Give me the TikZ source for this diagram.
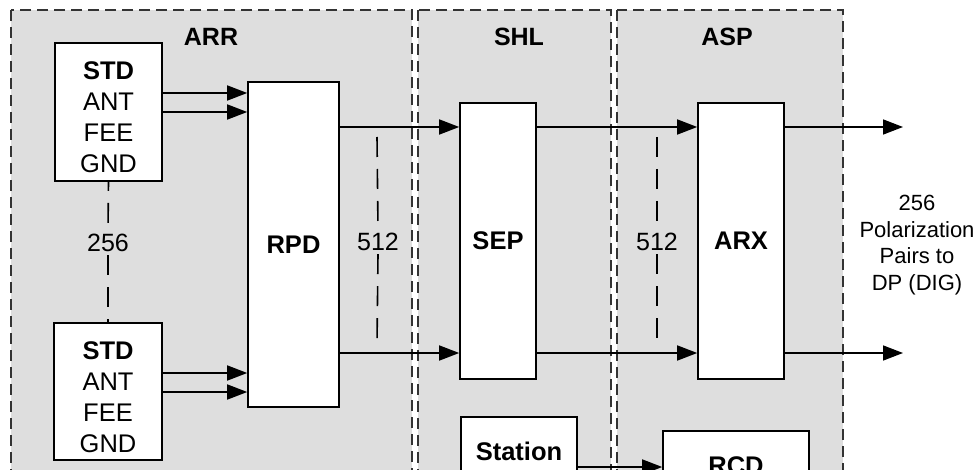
\documentclass[tikz,border=0pt]{standalone}
\usepackage{fontspec}
\setmainfont{Liberation Sans}
\usetikzlibrary{arrows.meta}
\definecolor{regfill}{HTML}{DEDEDE}
\definecolor{regline}{HTML}{333333}
\tikzset{
  region/.style={fill=regfill, draw=regline, line width=1.8pt, dash pattern=on 11pt off 6pt},
  reglabel/.style={font=\fontsize{25}{30}\selectfont\bfseries},
  blockbox/.style={draw=black, fill=white, line width=1.6pt, inner sep=0pt},
  boxtext/.style={font=\fontsize{25.5}{31}\selectfont, align=center, inner sep=0pt},
  boldtext/.style={font=\fontsize{25.5}{31}\selectfont\bfseries, inner sep=0pt},
  arr/.style={line width=1.6pt, -{Triangle[length=20pt,width=15pt]}},
  dashv/.style={line width=1.6pt, dash pattern=on 20pt off 12pt},
  numlabel/.style={font=\fontsize{25}{30}\selectfont, inner sep=3pt},
}
\begin{document}
\begin{tikzpicture}[x=1pt, y=-1pt]
\useasboundingbox (0,0) rectangle (979,470);
\clip (0,0) rectangle (979,470);
\fill[white] (0,0) rectangle (979,470);

% regions
\draw[region] (11,10) rectangle (412,520);
\draw[region] (418,10) rectangle (611,520);
\draw[region] (617,10) rectangle (843,520);
\node[reglabel] (arrlab) at (211,37) {ARR};
\node[reglabel] (shllab) at (519,37) {SHL};
\node[reglabel] (asplab) at (727,37) {ASP};

% STD boxes
\node[blockbox, minimum width=107pt, minimum height=138pt] (stdA) at (108.5,112) {};
\node[boxtext] (stdAtext) at (108.5,117.5) {\textbf{STD}\\ANT\\FEE\\GND};
\node[blockbox, minimum width=108pt, minimum height=137pt] (stdB) at (108,391.5) {};
\node[boxtext] (stdBtext) at (108,397) {\textbf{STD}\\ANT\\FEE\\GND};

% main blocks
\node[blockbox, boldtext, minimum width=91pt, minimum height=325pt] (rpd) at (293.5,244.5) {RPD};
\node[blockbox, boldtext, minimum width=76pt, minimum height=276pt] (sep) at (498,241) {SEP};
\node[blockbox, boldtext, minimum width=86pt, minimum height=276pt] (arx) at (741,241) {ARX};
\node[blockbox, boldtext, minimum width=116pt, minimum height=70pt, anchor=north] (station) at (519,416) {Station};
\node[blockbox, boldtext, minimum width=146pt, minimum height=70pt, anchor=north] (rcd) at (736,430) {RCD};

% labels
\node[numlabel] (n256) at (108,243) {256};
\node[numlabel] (n512a) at (378,242) {512};
\node[numlabel] (n512b) at (657,242) {512};
\node[font=\fontsize{22}{26.5}\selectfont, align=center, inner sep=0pt] (outlab) at (917,245) {256\\Polarization\\Pairs to\\DP (DIG)};

% dashed multiplicity lines
\draw[dashv, dash phase=11pt] (stdA.south) -- (n256.north);
\draw[dashv] (n256.south) -- (stdB.north);
\coordinate (d1top) at (377,137);
\coordinate (d1bot) at (377,345);
\coordinate (d2top) at (657,137);
\coordinate (d2bot) at (657,345);
\draw[dashv] (d1top) -- (n512a.north);
\draw[dashv] (n512a.south) -- (d1bot);
\draw[dashv] (d2top) -- (n512b.north);
\draw[dashv] (n512b.south) -- (d2bot);

% arrows STD -> RPD
\draw[arr] (stdA.east |- 0,93) -- (rpd.west |- 0,93);
\draw[arr] (stdA.east |- 0,112) -- (rpd.west |- 0,112);
\draw[arr] (stdB.east |- 0,373) -- (rpd.west |- 0,373);
\draw[arr] (stdB.east |- 0,392) -- (rpd.west |- 0,392);

% RPD -> SEP -> ARX -> out
\draw[arr] (rpd.east |- 0,127) -- (sep.west |- 0,127);
\draw[arr] (rpd.east |- 0,353) -- (sep.west |- 0,353);
\draw[arr] (sep.east |- 0,127) -- (arx.west |- 0,127);
\draw[arr] (sep.east |- 0,353) -- (arx.west |- 0,353);
\coordinate (outA) at (903,127);
\coordinate (outB) at (903,353);
\draw[arr] (arx.east |- 0,127) -- (outA);
\draw[arr] (arx.east |- 0,353) -- (outB);

% Station -> RCD
\draw[arr] (station.east |- 0,467) -- (rcd.west |- 0,467);
\end{tikzpicture}
\end{document}
